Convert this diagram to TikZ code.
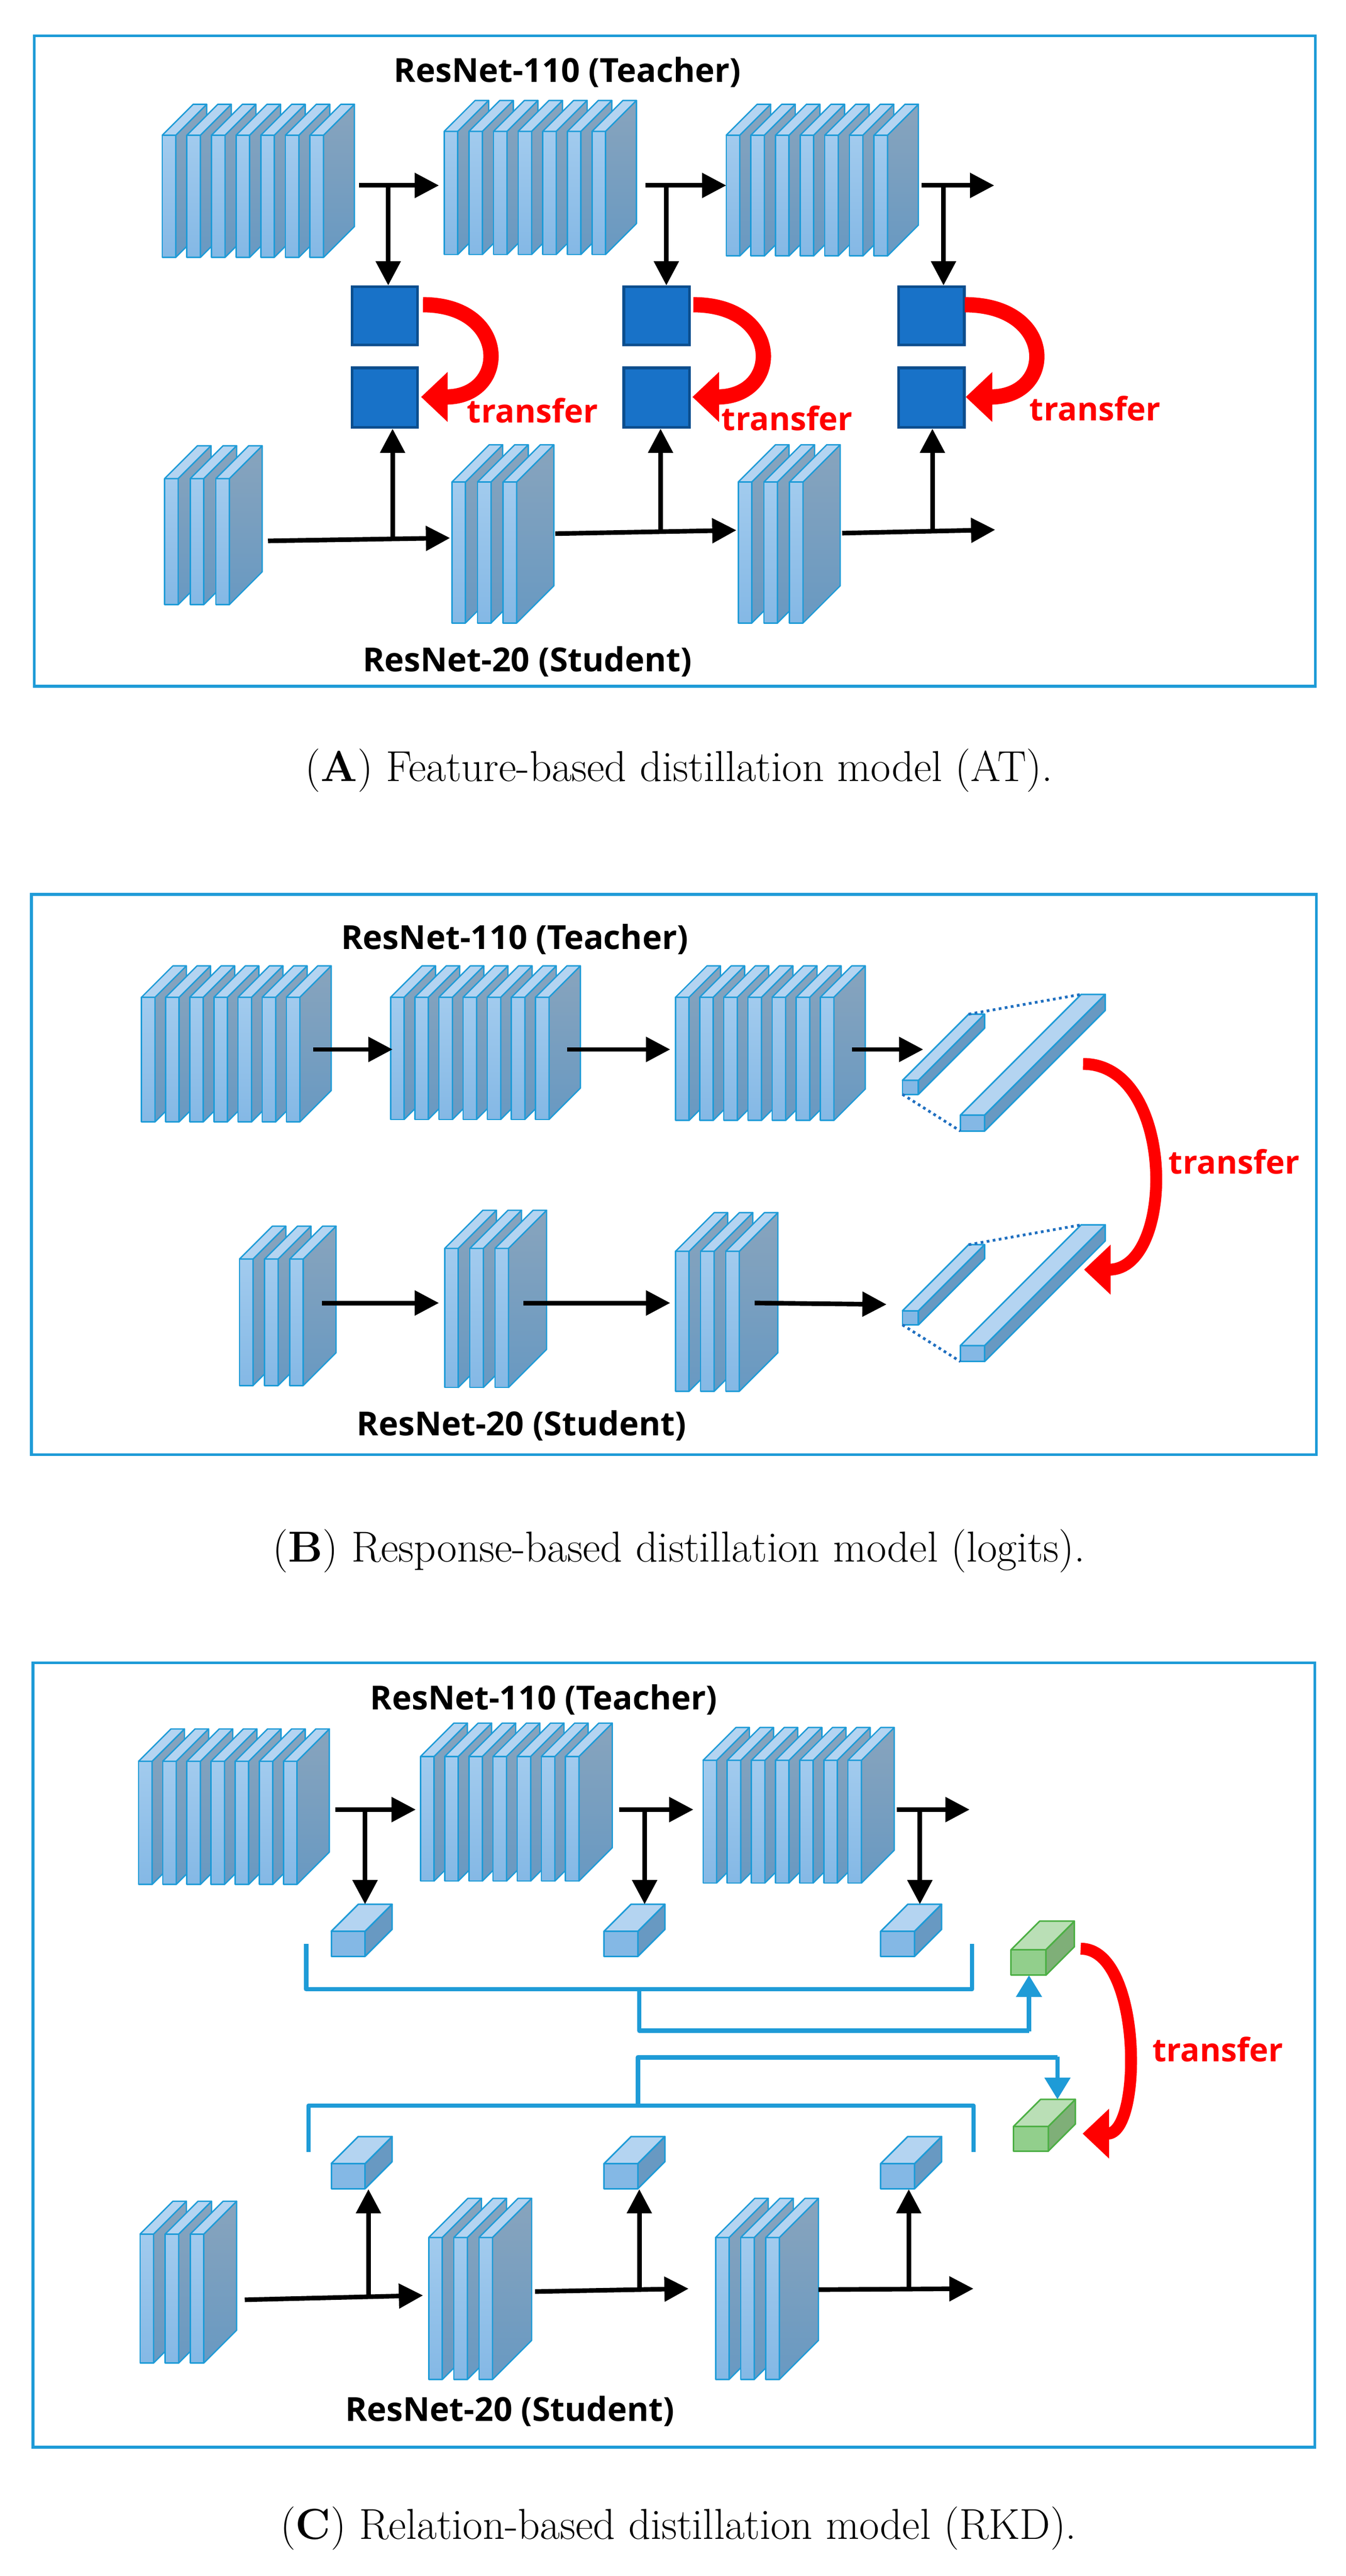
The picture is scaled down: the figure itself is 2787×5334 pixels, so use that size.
\documentclass[tikz,border=0pt]{standalone}
\usepackage{fontspec}
\newfontfamily\sansb{Open Sans}[BoldFont={* Bold}]
\usetikzlibrary{arrows.meta}
\definecolor{frameblue}{HTML}{1E9BD7}
\definecolor{slabline}{HTML}{1E9BD7}
\definecolor{frontA}{HTML}{A2CBEE}
\definecolor{frontB}{HTML}{84B8E5}
\definecolor{sideA}{HTML}{88A4BD}
\definecolor{sideB}{HTML}{6899C2}
\definecolor{topc}{HTML}{B4D4F1}
\definecolor{sqfill}{HTML}{1872C8}
\definecolor{sqline}{HTML}{0B4E8E}
\definecolor{gfront}{HTML}{92CF8C}
\definecolor{gside}{HTML}{7FAF78}
\definecolor{gtop}{HTML}{BADFB6}
\definecolor{gline}{HTML}{4CAF44}
\definecolor{dotblue}{HTML}{1F6FC0}
\tikzset{
  frame/.style={draw=frameblue, line width=1.7pt},
  slabface/.style={draw=slabline, line width=0.8pt, line join=round},
  arr/.style={line width=2.7pt, -{Triangle[length=0.5cm,width=0.5cm]}},
  redarr/.style={draw=red, line width=#1, -{Triangle[length=0.55cm,width=1.0cm]}},
  bluearr/.style={draw=frameblue, line width=2.6pt, -{Triangle[length=0.45cm,width=0.52cm]}},
  blueln/.style={draw=frameblue, line width=2.6pt, line join=round},
  title/.style={font=\sansb\bfseries\fontsize{19.5}{23}\selectfont},
  tr/.style={font=\sansb\bfseries\fontsize{19}{23}\selectfont, text=red},
  captext/.style={font=\fontsize{25.5}{30}\selectfont},
  sq/.style={draw=sqline, fill=sqfill, line width=1.6pt},
}
\newcommand\myslabs[6]{%
  \foreach \i in {1,...,#1}{%
    \pgfmathsetmacro\xx{#2+(\i-1)*#5}%
    \pgfmathsetmacro\xr{\xx+28}%
    \fill[top color=frontA,bottom color=frontB] (\xx,#3) rectangle (\xr,#4);
    \draw[slabface] (\xx,#3) rectangle (\xr,#4);
    \draw[slabface, top color=sideA, bottom color=sideB] (\xr,#3) -- ({\xr+#6},{#3-#6}) -- ({\xr+#6},{#4-#6}) -- (\xr,#4) -- cycle;
    \draw[slabface, fill=topc] (\xx,#3) -- ({\xx+#6},{#3-#6}) -- ({\xr+#6},{#3-#6}) -- (\xr,#3) -- cycle;
  }}
\newcommand\mybox[9]{%
  \draw[draw=#9, line width=0.9pt, line join=round, fill=#6] (#1,#2) rectangle ({#1+#3},{#2+#4});
  \draw[draw=#9, line width=0.9pt, line join=round, fill=#7] ({#1+#3},#2) -- ({#1+#3+#5},{#2-#5}) -- ({#1+#3+#5},{#2+#4-#5}) -- ({#1+#3},{#2+#4}) -- cycle;
  \draw[draw=#9, line width=0.9pt, line join=round, fill=#8] (#1,#2) -- ({#1+#5},{#2-#5}) -- ({#1+#3+#5},{#2-#5}) -- ({#1+#3},#2) -- cycle;
}
\newcommand\logits[1]{%
  \begin{scope}[yshift=#1]
  \mybox{1869}{2237}{33}{29}{137}{frontB}{sideB}{topc}{slabline}
  \mybox{1989}{2309}{50}{33}{250}{frontB}{sideB}{topc}{slabline}
  \draw[dotblue, line width=1.6pt, dotted] (1869,2266) -- (1989,2342);
  \draw[dotblue, line width=1.6pt, dotted] (2006,2100) -- (2239,2059);
  \end{scope}}
\begin{document}
\begin{tikzpicture}[x=0.01cm, y=-0.01cm]
\useasboundingbox (0,0) rectangle (2787,5334);
\fill[white] (0,0) rectangle (2787,5334);

%%%%%%%%%%%%%%%% Panel A
\draw[frame] (71,74) rectangle (2724,1421);
\node[title] (tA) at (1175,150) {ResNet-110 (Teacher)};
\node[title] (sA) at (1092,1370) {ResNet-20 (Student)};
\myslabs{7}{336}{280}{533}{51}{64}
\myslabs{7}{920}{272}{527}{51}{64}
\myslabs{7}{1504}{280}{530}{51}{64}
\myslabs{3}{341}{991}{1252}{53}{68}
\myslabs{3}{936}{998}{1290}{53}{77}
\myslabs{3}{1529}{998}{1290}{53}{77}
\foreach \n/\x in {1/726,2/1289,3/1858}{
  \node[sq, minimum width=1.36cm, minimum height=1.2cm, anchor=north west, inner sep=0pt] (qt\n) at (\x,591) {};
  \node[sq, minimum width=1.36cm, minimum height=1.23cm, anchor=north west, inner sep=0pt] (qs\n) at (\x,759) {};
}
\coordinate (a1s) at (744,384); \coordinate (a1e) at (909,384); \coordinate (a1d) at (804,384);
\coordinate (a2s) at (1337,384); \coordinate (a2e) at (1504,384); \coordinate (a2d) at (1380,384);
\coordinate (a3s) at (1909,384); \coordinate (a3e) at (2059,384); \coordinate (a3d) at (1954,384);
\draw[arr] (a1s) -- (a1e); \draw[arr] (a2s) -- (a2e); \draw[arr] (a3s) -- (a3e);
\draw[arr] (a1d) -- (a1d |- qt1.north);
\draw[arr] (a2d) -- (a2d |- qt2.north);
\draw[arr] (a3d) -- (a3d |- qt3.north);
\coordinate (b1s) at (555,1120); \coordinate (b1e) at (932,1114); \coordinate (b1u) at (813,1116);
\coordinate (b2s) at (1150,1105); \coordinate (b2e) at (1525,1098); \coordinate (b2u) at (1368,1100);
\coordinate (b3s) at (1744,1104); \coordinate (b3e) at (2061,1097); \coordinate (b3u) at (1931,1099);
\draw[arr] (b1s) -- (b1e); \draw[arr] (b2s) -- (b2e); \draw[arr] (b3s) -- (b3e);
\draw[arr] (b1u) -- (b1u |- qs1.south);
\draw[arr] (b2u) -- (b2u |- qs2.south);
\draw[arr] (b3u) -- (b3u |- qs3.south);
\draw[redarr=9pt] (876,631) .. controls (1055,631) and (1055,822) .. (872,822);
\draw[redarr=9pt] (1436,631) .. controls (1620,631) and (1620,822) .. (1434,822);
\draw[redarr=9pt] (1998,631) .. controls (2187,631) and (2187,822) .. (2000,822);
\node[tr] at (1103,850) {transfer};
\node[tr] at (1630,866) {transfer};
\node[tr] at (2268,846) {transfer};
\node[captext] (cA) at (1406,1595) {(\textbf{A}) Feature-based distillation model (AT).};

%%%%%%%%%%%%%%%% Panel B
\draw[frame] (65,1852) rectangle (2726,3012);
\node[title] (tB) at (1066,1945) {ResNet-110 (Teacher)};
\node[title] (sB) at (1080,2952) {ResNet-20 (Student)};
\myslabs{7}{293}{2065}{2323}{50}{65}
\myslabs{7}{809}{2065}{2318}{50}{65}
\myslabs{7}{1399}{2065}{2320}{50}{65}
\myslabs{3}{496}{2607}{2869}{52}{68}
\myslabs{3}{921}{2585}{2873}{52}{79}
\myslabs{3}{1399}{2591}{2881}{52}{80}
\draw[arr] (649,2173) -- (813,2173);
\draw[arr] (1175,2173) -- (1388,2173);
\draw[arr] (1764,2173) -- (1912,2173);
\draw[arr] (667,2698) -- (909,2698);
\draw[arr] (1084,2698) -- (1388,2698);
\draw[arr] (1563,2698) -- (1836,2701);
\logits{0}
\logits{-4.77cm}
\draw[redarr=7pt] (2243,2203) .. controls (2435,2203) and (2435,2629) .. (2245,2629);
\node[tr] at (2556,2405) {transfer};
\node[captext] (cB) at (1406,3212) {(\textbf{B}) Response-based distillation model (logits).};

%%%%%%%%%%%%%%%% Panel C
\draw[frame] (68,3443) rectangle (2723,5067);
\node[title] (tC) at (1126,3520) {ResNet-110 (Teacher)};
\node[title] (sC) at (1056,4993) {ResNet-20 (Student)};
\myslabs{7}{287}{3647}{3902}{50}{67}
\myslabs{7}{871}{3637}{3895}{50}{69}
\myslabs{7}{1456}{3645}{3899}{50}{68}
\myslabs{3}{290}{4626}{4893}{52}{68}
\myslabs{3}{888}{4633}{4927}{52}{81}
\myslabs{3}{1482}{4633}{4927}{52}{81}
\foreach \x in {686,1251,1824}{
  \mybox{\x}{3999}{70}{52}{56}{frontB}{sideB}{topc}{slabline}
  \mybox{\x}{4480}{70}{52}{56}{frontB}{sideB}{topc}{slabline}
}
\mybox{2094}{4037}{72}{53}{59}{gfront}{gside}{gtop}{gline}
\mybox{2099}{4403}{72}{51}{56}{gfront}{gside}{gtop}{gline}
\draw[arr] (694,3747) -- (861,3747);
\draw[arr] (1282,3747) -- (1436,3747);
\draw[arr] (1857,3747) -- (2008,3747);
\draw[arr] (756,3747) -- (756,3943);
\draw[arr] (1335,3747) -- (1335,3943);
\draw[arr] (1905,3747) -- (1905,3943);
\draw[arr] (507,4762) -- (876,4753);
\draw[arr] (1108,4745) -- (1426,4739);
\draw[arr] (1695,4741) -- (2016,4739);
\draw[arr] (763,4758) -- (763,4533);
\draw[arr] (1324,4737) -- (1324,4533);
\draw[arr] (1882,4737) -- (1882,4533);
\draw[blueln] (634,4025) -- (634,4119) -- (2013,4119) -- (2013,4025);
\draw[blueln] (1324,4119) -- (1324,4205) -- (2131,4205);
\draw[bluearr] (2131,4206) -- (2131,4090);
\draw[blueln] (639,4456) -- (639,4360) -- (2016,4360) -- (2016,4456);
\draw[blueln] (1321,4360) -- (1321,4260) -- (2190,4260);
\draw[bluearr] (2190,4259) -- (2190,4347);
\draw[redarr=7pt] (2238,4035) .. controls (2366,4035) and (2366,4418) .. (2242,4418);
\node[tr] at (2522,4244) {transfer};
\node[captext] (cC) at (1405,5235) {(\textbf{C}) Relation-based distillation model (RKD).};
\end{tikzpicture}
\end{document}
